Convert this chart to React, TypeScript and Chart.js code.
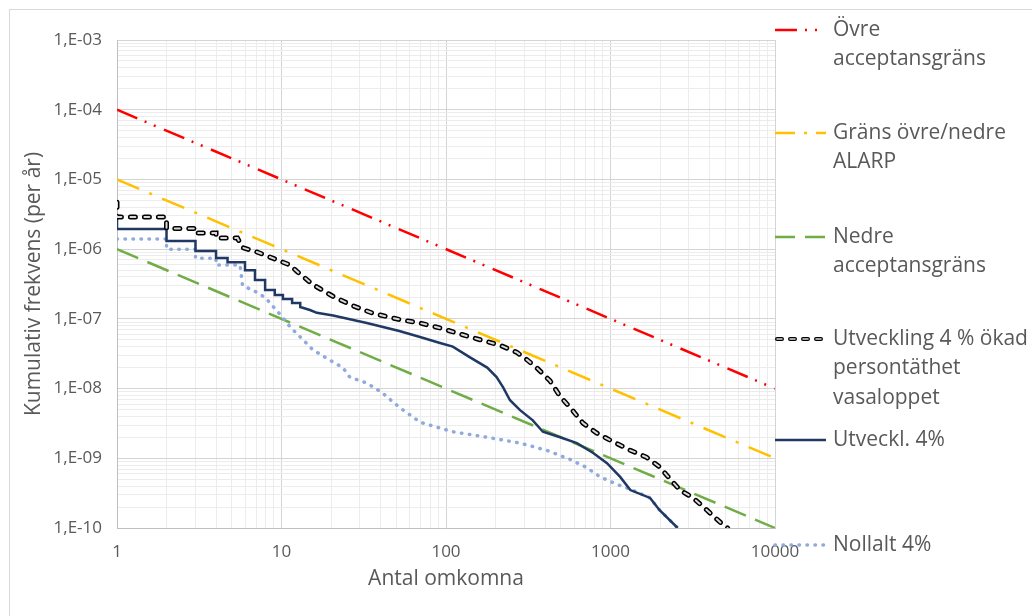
import React, { useEffect, useRef } from 'react';
import { Chart, registerables } from 'chart.js';

Chart.register(...registerables);

// ---- data ----
const refX = [1, 10000];
const ovreY = [1e-4, 1e-8];
const alarpY = [1e-5, 1e-9];
const nedreY = [1e-6, 1e-10];

const okadX = [1, 1, 2, 2, 3, 3, 4, 4, 5.4, 5.8, 7.1, 9, 11.3, 12.4, 13.3, 15.5, 20.6, 27, 36, 52, 69.5, 92, 140, 212, 270, 310, 355, 428, 494, 570, 680, 825, 990, 1320, 1650, 1990, 2200, 2640, 3180, 3860, 4660, 5150];
const okadY = [4.7e-6, 2.9e-6, 2.9e-6, 1.98e-6, 1.98e-6, 1.7e-6, 1.7e-6, 1.44e-6, 1.44e-6, 1.05e-6, 9.1e-7, 7.3e-7, 5.9e-7, 4.8e-7, 4.2e-7, 3.1e-7, 2.1e-7, 1.55e-7, 1.2e-7, 9.8e-8, 8.7e-8, 7.4e-8, 5.5e-8, 4.2e-8, 3.3e-8, 2.6e-8, 2.0e-8, 1.3e-8, 7.7e-9, 5.3e-9, 3.2e-9, 2.3e-9, 1.83e-9, 1.3e-9, 1.04e-9, 7.5e-10, 5.7e-10, 3.5e-10, 2.7e-10, 1.8e-10, 1.2e-10, 1e-10];

const utvX = [1, 1, 2, 2, 3, 3, 4, 4, 4.7, 4.7, 6, 6, 6.9, 6.9, 7.95, 7.95, 9.1, 9.1, 10.2, 10.2, 11.6, 11.6, 13, 13, 14.9, 16.4, 20.6, 33, 52, 69.5, 92, 110, 140, 178, 203, 222, 245, 282, 337, 388, 494, 625, 785, 952, 1145, 1320, 1740, 1990, 2560];
const utvY = [2.9e-6, 1.94e-6, 1.94e-6, 1.31e-6, 1.31e-6, 9.4e-7, 9.4e-7, 7.45e-7, 7.45e-7, 6.5e-7, 6.5e-7, 5.0e-7, 5.0e-7, 3.6e-7, 3.6e-7, 2.6e-7, 2.6e-7, 2.2e-7, 2.2e-7, 1.92e-7, 1.92e-7, 1.69e-7, 1.69e-7, 1.48e-7, 1.34e-7, 1.22e-7, 1.12e-7, 8.7e-8, 6.7e-8, 5.5e-8, 4.5e-8, 4.0e-8, 2.8e-8, 2.0e-8, 1.46e-8, 1.05e-8, 6.8e-9, 4.9e-9, 3.5e-9, 2.4e-9, 2.0e-9, 1.65e-9, 1.19e-9, 8.5e-10, 5.4e-10, 3.5e-10, 2.7e-10, 1.8e-10, 1e-10];

const nollX = [1, 2, 2, 3, 3, 4, 4, 5.6, 5.8, 7.1, 8, 8.9, 10.1, 11.3, 13, 15.5, 20.6, 23.6, 26, 33, 41, 52, 69.5, 110, 178, 282, 410, 570, 720, 865, 1100, 1320, 1740, 1990, 2560];
const nollY = [1.4e-6, 1.4e-6, 1.0e-6, 1.0e-6, 7.4e-7, 7.4e-7, 5.9e-7, 5.9e-7, 3.0e-7, 2.4e-7, 2.0e-7, 1.5e-7, 1.07e-7, 7.6e-8, 5.5e-8, 3.6e-8, 2.4e-8, 2.0e-8, 1.46e-8, 1.2e-8, 8.7e-9, 5.4e-9, 3.3e-9, 2.4e-9, 2.0e-9, 1.65e-9, 1.3e-9, 9.6e-10, 7.3e-10, 5.4e-10, 4.2e-10, 3.6e-10, 2.7e-10, 1.8e-10, 1e-10];

const xTickLabels = ['1', '10', '100', '1000', '10000'];
const yTickLabels = ['1,E-10', '1,E-09', '1,E-08', '1,E-07', '1,E-06', '1,E-05', '1,E-04', '1,E-03'];
const legendLabels = [
  ['Övre', 'acceptansgräns'],
  ['Gräns övre/nedre', 'ALARP'],
  ['Nedre', 'acceptansgräns'],
  ['Utveckling 4 % ökad', 'persontäthet', 'vasaloppet'],
  ['Utveckl. 4%'],
  ['Nollalt 4%'],
];
const xTitle = 'Antal omkomna';
const yTitle = 'Kumulativ frekvens (per år)';

// ---- helpers ----
const pts = (xs: number[], ys: number[]) => xs.map((x, i) => ({ x, y: ys[i] }));
const isMajor = (v: number) => {
  const l = Math.log10(v);
  return Math.abs(l - Math.round(l)) < 1e-9;
};
const logTicks = (e0: number, e1: number) => {
  const out: { value: number }[] = [];
  for (let e = e0; e < e1; e++) {
    for (let m = 1; m <= 9; m++) out.push({ value: Number((m * Math.pow(10, e)).toPrecision(10)) });
  }
  out.push({ value: Math.pow(10, e1) });
  return out;
};

const FONT = "'Open Sans', 'DejaVu Sans', sans-serif";
const TXT = '#595959';

const RED = '#FF0000';
const YEL = '#FFC000';
const GRN = '#70AD47';
const NAVY = '#203864';
const LBLUE = '#8FAADC';
const OKAD_OUT = '#000000';
const OKAD_IN = '#d9d9d9';

const legendPlugin = {
  id: 'customLegend',
  afterDraw(chart: any) {
    const ctx = chart.ctx as CanvasRenderingContext2D;
    const rows = [30, 133, 237, 339, 440, 545];
    const x0 = 775;
    const x1 = 826;
    const tx = 833;
    const lineGap = 29.5;
    ctx.save();
    const seg = (y: number, color: string, w: number, dash: number[], cap: CanvasLineCap, a = x0, b = x1) => {
      ctx.beginPath();
      ctx.strokeStyle = color;
      ctx.lineWidth = w;
      ctx.setLineDash(dash);
      ctx.lineCap = cap;
      ctx.moveTo(a, y);
      ctx.lineTo(b, y);
      ctx.stroke();
    };
    seg(rows[0], RED, 2.5, [22, 8, 2, 8, 2, 9], 'butt');
    seg(rows[1], YEL, 2.5, [20, 9, 3, 9], 'butt');
    seg(rows[2], GRN, 2.5, [20, 10], 'butt');
    seg(rows[3], OKAD_OUT, 4, [5, 8], 'round', 777, 826);
    seg(rows[3], OKAD_IN, 1.5, [5, 8], 'round', 777, 826);
    seg(rows[4], NAVY, 2.5, [], 'butt');
    seg(rows[5], LBLUE, 3.5, [0.5, 7.5], 'round');
    ctx.setLineDash([]);
    ctx.fillStyle = TXT;
    ctx.font = `21px ${FONT}`;
    ctx.textBaseline = 'middle';
    ctx.textAlign = 'left';
    legendLabels.forEach((lines, i) => {
      lines.forEach((t, j) => ctx.fillText(t, tx, rows[i] + j * lineGap));
    });
    ctx.restore();
  },
};

export default function App() {
  const ref = useRef<HTMLCanvasElement | null>(null);
  useEffect(() => {
    if (!ref.current) return;
    const chart = new Chart(ref.current, {
      type: 'line',
      data: {
        datasets: [
          { label: 'okadInner', data: pts(okadX, okadY), borderColor: OKAD_IN, borderWidth: 2, borderDash: [5, 9], borderCapStyle: 'round', pointRadius: 0, order: 0 } as any,
          { label: 'Utveckling 4 % ökad persontäthet vasaloppet', data: pts(okadX, okadY), borderColor: OKAD_OUT, borderWidth: 5, borderDash: [5, 9], borderCapStyle: 'round', pointRadius: 0, order: 1 },
          { label: 'Utveckl. 4%', data: pts(utvX, utvY), borderColor: NAVY, borderWidth: 2.5, pointRadius: 0, order: 2 },
          { label: 'Nollalt 4%', data: pts(nollX, nollY), borderColor: LBLUE, borderWidth: 3.5, borderDash: [0.5, 7.5], borderCapStyle: 'round', pointRadius: 0, order: 3 },
          { label: 'Övre acceptansgräns', data: pts(refX, ovreY), borderColor: RED, borderWidth: 2.5, borderDash: [22, 8, 2, 8, 2, 9], pointRadius: 0, order: 4 },
          { label: 'Gräns övre/nedre ALARP', data: pts(refX, alarpY), borderColor: YEL, borderWidth: 2.5, borderDash: [24, 11, 3, 11], pointRadius: 0, order: 5 },
          { label: 'Nedre acceptansgräns', data: pts(refX, nedreY), borderColor: GRN, borderWidth: 2.5, borderDash: [23, 10], pointRadius: 0, order: 6 },
        ],
      },
      options: {
        animation: false,
        responsive: true,
        maintainAspectRatio: false,
        layout: { padding: { left: 0, top: 40, right: 257, bottom: 0 } },
        plugins: { legend: { display: false }, tooltip: { enabled: false } },
        elements: { line: { tension: 0, fill: false } },
        scales: {
          x: {
            type: 'logarithmic',
            min: 1,
            max: 10000,
            afterBuildTicks: (s: any) => { s.ticks = logTicks(0, 4); },
            afterFit: (s: any) => { s.height = 88; },
            grid: {
              drawTicks: false,
              color: (c: any) => (c.tick && isMajor(c.tick.value) ? '#d4d4d4' : '#ececec'),
              lineWidth: 1,
            },
            border: { display: true, color: '#bfbfbf', width: 1 },
            ticks: {
              autoSkip: false,
              maxRotation: 0,
              padding: 14,
              color: TXT,
              font: { family: FONT, size: 17 },
              callback: (v: any) => (isMajor(Number(v)) ? xTickLabels[Math.round(Math.log10(Number(v)))] : ''),
            },
            title: { display: true, text: xTitle, color: TXT, font: { family: FONT, size: 21 }, padding: { top: 0, bottom: 24 } },
          },
          y: {
            type: 'logarithmic',
            min: 1e-10,
            max: 1e-3,
            afterBuildTicks: (s: any) => { s.ticks = logTicks(-10, -3); },
            afterFit: (s: any) => { s.width = 117; },
            grid: {
              drawTicks: false,
              color: (c: any) => (c.tick && isMajor(c.tick.value) ? '#d4d4d4' : '#ececec'),
              lineWidth: 1,
            },
            border: { display: true, color: '#bfbfbf', width: 1 },
            ticks: {
              autoSkip: false,
              padding: 15,
              color: TXT,
              font: { family: FONT, size: 17 },
              callback: (v: any) => (isMajor(Number(v)) ? yTickLabels[Math.round(Math.log10(Number(v))) + 10] : ''),
            },
            title: { display: true, text: yTitle, color: TXT, font: { family: FONT, size: 21 }, padding: { top: 21, bottom: 0 } },
          },
        },
      } as any,
      plugins: [legendPlugin],
    });
    return () => chart.destroy();
  }, []);

  return (
    <div style={{ position: 'fixed', left: 0, top: 0, width: 1032, height: 616, overflow: 'hidden', background: '#ffffff' }}>
      <div style={{ position: 'absolute', left: 9, top: 9, width: 1040, height: 640, border: '1px solid #d9d9d9', boxSizing: 'border-box' }} />
      <div style={{ position: 'absolute', left: 0, top: 0, width: 1032, height: 616 }}>
        <canvas ref={ref} />
      </div>
    </div>
  );
}
